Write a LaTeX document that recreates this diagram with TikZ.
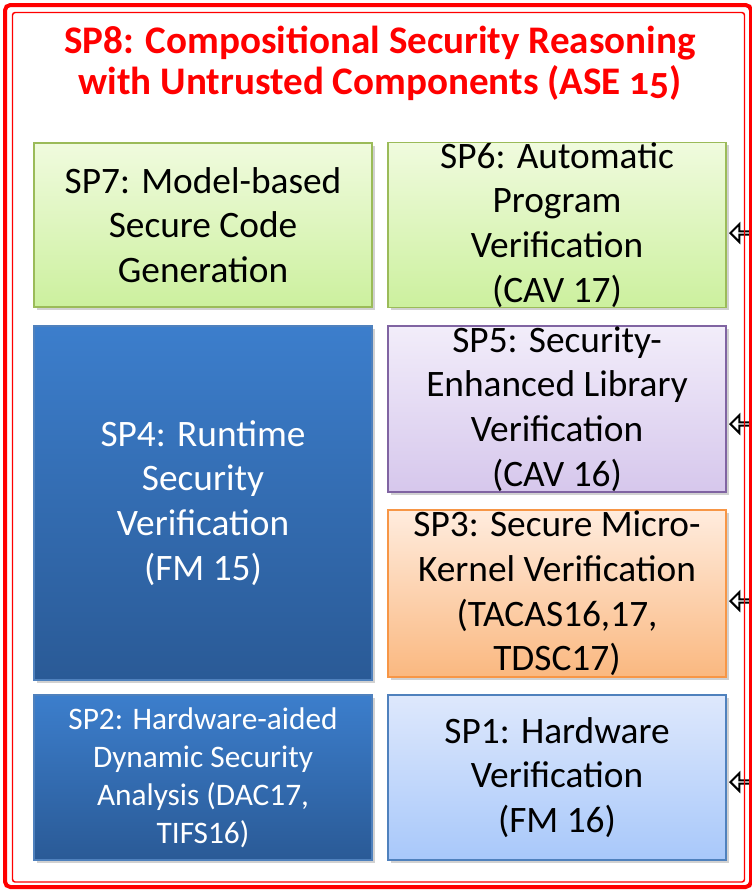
\documentclass[tikz,border=0pt]{standalone}
\usepackage{fontspec}
\setmainfont{Carlito}
\usetikzlibrary{shapes.arrows,shadows}

\definecolor{spred}{RGB}{255,0,0}
\definecolor{greenline}{RGB}{155,187,89}
\definecolor{purpleline}{RGB}{128,100,162}
\definecolor{orangeline}{RGB}{247,150,70}
\definecolor{blueline}{RGB}{79,129,189}

\tikzset{
  spbox/.style={draw, line width=1.2pt, inner sep=0pt, align=center,
    minimum width=253.5pt, minimum height=123pt,
    font=\fontsize{28}{33.5}\selectfont,
    drop shadow={shadow xshift=2pt, shadow yshift=-2pt, opacity=0.3, fill=black!60}},
  greenbox/.style={spbox, draw=greenline, top color={rgb,255:red,240;green,251;blue,222}, bottom color={rgb,255:red,204;green,240;blue,158}},
  purplebox/.style={spbox, draw=purpleline, top color={rgb,255:red,242;green,237;blue,250}, bottom color={rgb,255:red,214;green,199;blue,236}},
  orangebox/.style={spbox, draw=orangeline, top color={rgb,255:red,255;green,236;blue,222}, bottom color={rgb,255:red,250;green,184;blue,128}},
  lightbluebox/.style={spbox, draw=blueline, top color={rgb,255:red,222;green,232;blue,252}, bottom color={rgb,255:red,168;green,200;blue,250}},
  darkbluebox/.style={spbox, draw=blueline, text=white, top color={rgb,255:red,60;green,126;blue,204}, bottom color={rgb,255:red,42;green,90;blue,150}},
  inarrow/.style={single arrow, draw=black, line width=1.5pt, fill=white, inner sep=0pt,
    minimum width=13.5pt, minimum height=26pt, single arrow head extend=3.4pt,
    shape border rotate=180, anchor=tip}
}

\begin{document}
\begin{tikzpicture}[x=0.75pt, y=-0.75pt]
\useasboundingbox (0,0) rectangle (752,890);

% Titel
\node[text=spred, align=center, font=\fontsize{29.3}{31}\selectfont\bfseries] (sp8) at (380,63)
  {SP8: Compositional Security Reasoning\\with Untrusted Components (ASE {\addfontfeature{Numbers=OldStyle}15})};

% Boxen
\node[greenbox] (sp7) at (203,225) {SP7: Model-based\\Secure Code\\Generation};
\node[greenbox] (sp6) at (557,225) {SP6: Automatic\\Program\\Verification\\(CAV 17)};
\node[purplebox, minimum height=124.5pt] (sp5) at (557,409) {SP5: Security-\\Enhanced Library\\Verification\\(CAV 16)};
\node[darkbluebox, minimum height=265.5pt] (sp4) at (203,503) {SP4: Runtime\\Security\\Verification\\(FM 15)};
\node[orangebox, minimum height=125pt] (sp3) at (557,593.5) {SP3: Secure Micro-\\Kernel Verification\\(TACAS16,17,\\TDSC17)};
\node[darkbluebox, minimum height=123.75pt, font=\fontsize{23.5}{28.5}\selectfont] (sp2) at (203,777.5)
  {SP2: Hardware-aided\\Dynamic Security\\Analysis (DAC17,\\TIFS16)};
\node[lightbluebox, minimum height=123.75pt] (sp1) at (557,777.5) {SP1: Hardware\\Verification\\(FM 16)};

% Eingehende Pfeile
\node[inarrow] (in6) at (729,233) {};
\node[inarrow] (in5) at (729,424) {};
\node[inarrow] (in3) at (729,601) {};
\node[inarrow] (in1) at (729,782) {};

% Rahmen
\draw[spred, line width=3pt, rounded corners=4pt] (5,5) rectangle (751,887);
\draw[spred, line width=1.1pt, rounded corners=2pt] (12.5,12.5) rectangle (744.5,882);

\end{tikzpicture}
\end{document}
